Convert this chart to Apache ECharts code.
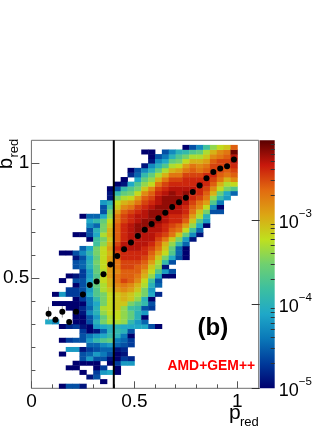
<!DOCTYPE html>
<html>
<head>
	<meta charset="UTF-8">
	<title>b_red vs p_red (AMD+GEM++)</title>
	<script src="https://cdn.jsdelivr.net/npm/echarts@6/dist/echarts.min.js"></script>
	<style>
		html, body { margin: 0; padding: 0; background: #fff; }
		#main { width: 332px; height: 430px; }
	</style>
</head>
<body>
<div id="main"></div>
<script type="text/javascript">
    // cell values, in tenths of a decade above 1e-5
    // each column: first the lowest row number, then the cells going up (_ = empty cell)
    var _ = null;
    var col2 = [14, 9];
    var col3 = [14, 7, _, _, _, 0, _, 0];
    var col4 = [0, 0, _, _, _, _, _, _, 0, _, _, 0, _, _, 0, _, _, _, _, 0, _, 8, _, _, 0, _, _, _, _, _, 0];
    var col5 = [0, 4, _, _, _, 0, _, _, _, 8, _, 3, _, _, 2, _, _, _, 0, 0, _, 3, 3, _, _, 0, _, _, _, _, 0];
    var col6 = [0, 4, _, _, _, 0, 0, _, _, 8, _, 4, _, _, 3, 0, 0, 0, 0, 0, 0, 3, 3, 0, 4, 1, _, 4, 4, 1, 4, _, _, _, 0];
    var col7 = [0, 1, _, _, 0, _, 0, 4, 4, 1, _, 4, 4, 3, 1, 0, 0, 1, 2, 0, 3, 3, 4, 4, 4, 3, 3, 5, 5, 4, 7, 5, _, _, 0, _, _, _, 0];
    var col8 = [2, 1, _, _, 0, 8, 5, 3, 5, 8, 6, 0, 0, 4, 4, 7, 5, 6, 6, 9, 8, 9, 9, 8, 8, 10, 10, 9, 11, 9, _, 0, 4, 4, 7, 9, 5];
    var col9 = [2, 4, 3, 0, 0, 4, 8, 4, 5, 11, 8, 1, 8, 10, 8, 10, 10, 9, 11, 13, 13, 14, 14, 13, 14, 14, 15, 14, 15, 15, 12, 12, 9, 10, 5, 11, 5];
    var col10 = [1, 0, _, 8, 3, _, 4, 6, 5, 7, 13, 9, 5, 9, 15, 14, 16, 17, 15, 15, 15, 17, 17, 18, 18, 17, 18, 18, 18, 18, 18, 16, 15, 17, 15, 15, 14, 9, 4, 4, 8];
    var col11 = [3, 9, _, 0, 1, 4, 5, 8, 14, 11, 10, 10, 17, 17, 18, 18, 18, 18, 18, 19, 20, 20, 21, 21, 21, 21, 21, 20, 21, 20, 19, 20, 20, 19, 18, 16, 15, 12, 10, 1, 1, 0];
    var col12 = [3, 0, 0, 3, 0, 0, 1, 5, 6, 10, 11, 10, 17, 18, 18, 19, 19, 19, 19, 21, 22, 23, 23, 22, 23, 23, 24, 25, 26, 25, 24, 24, 24, 24, 23, 23, 21, 19, 18, 15, 11, 4, 0];
    var col13 = [5, 8, 3, 1, 2, 4, 5, 6, 10, 9, 16, 16, 16, 16, 19, 20, 20, 22, 23, 25, 24, 24, 25, 25, 26, 26, 27, 27, 26, 26, 26, 26, 25, 25, 24, 22, 20, 17, 14, 11, 1, 0];
    var col14 = [5, 8, 2, _, _, 3, 3, 0, 4, 9, 11, 14, 14, 12, 15, 19, 19, 21, 22, 24, 24, 24, 25, 25, 26, 26, 27, 27, 27, 27, 27, 27, 26, 26, 25, 23, 21, 18, 15, 13, 9, _, 2, 0];
    var col15 = [13, 9, 8, 10, 10, 11, 13, 16, 17, 19, 20, 22, 23, 24, 24, 25, 26, 26, 27, 27, 27, 28, 28, 28, 27, 27, 26, 25, 23, 21, 18, 15, 13, 9, 5, 4];
    var col16 = [13, 9, 5, 0, 8, 4, 11, 10, 15, 15, 17, 18, 20, 21, 23, 24, 25, 26, 26, 27, 27, 27, 28, 28, 28, 27, 27, 26, 25, 24, 22, 19, 16, 14, 11, 7, 1, _, _, 0];
    var col17 = [13, 4, _, _, _, 3, 4, 0, 9, 8, 10, 12, 16, 18, 19, 21, 23, 24, 25, 26, 27, 27, 27, 28, 28, 28, 28, 27, 26, 25, 24, 22, 18, 16, 14, 10, 7, 1, 0, 0];
    var col18 = [13, 0, _, _, _, _, _, _, 2, _, 5, 4, 9, 13, 16, 17, 19, 21, 23, 24, 25, 26, 27, 27, 28, 28, 28, 28, 27, 27, 26, 25, 23, 20, 17, 14, 10, 7, 4];
    var col19 = [24, 0, 8, 1, 11, 15, 18, 19, 20, 23, 25, 26, 26, 27, 27, 28, 28, 28, 28, 27, 26, 25, 23, 20, 17, 13, 9, 6, 4];
    var col20 = [24, 0, 4, _, 4, 9, 13, 14, 16, 19, 23, 24, 25, 26, 26, 27, 27, 28, 28, 28, 27, 26, 25, 23, 20, 17, 14, 10, 7];
    var col21 = [28, 4, 5, 5, 11, 15, 19, 23, 24, 26, 26, 27, 27, 28, 28, 27, 27, 26, 25, 23, 21, 18, 15, 13, 10];
    var col22 = [28, 0, 0, 0, 5, 8, 14, 18, 21, 24, 25, 26, 26, 27, 27, 28, 27, 26, 26, 25, 23, 21, 18, 15, 11, 0];
    var col23 = [32, 1, 7, 12, 16, 19, 21, 23, 24, 25, 26, 26, 27, 26, 26, 25, 24, 23, 20, 17, 13, 4];
    var col24 = [33, 1, 5, 9, 13, 17, 19, 22, 23, 25, 26, 26, 27, 26, 25, 23, 22, 20, 17, 14, 7];
    var col25 = [35, 0, 8, 10, 15, 18, 21, 23, 24, 25, 26, 26, 26, 24, 23, 21, 19, 17, 12];
    var col26 = [38, 4, 7, 13, 16, 20, 22, 24, 25, 26, 25, 25, 24, 22, 20, 16];
    var col27 = [38, 4, 0, 6, 11, 14, 18, 20, 23, 24, 25, 25, 25, 23, 22, 18];
    var col28 = [41, 8, 9, 15, 17, 20, 23, 24, 25, 25, 24, 23, 19];
    var col29 = [42, 5, 13, 18, 22, 24, 25, 26, 27, 27, 29, 24];

    // mean b_red per p_red bin, starting at column 2
    var meanB = [0.345, 0.319, 0.353, 0.309, 0.353, 0.429, 0.470, 0.485, 0.517, 0.559, 0.596, 0.626, 0.655, 0.683, 0.711,
        0.735, 0.761, 0.784, 0.809, 0.830, 0.850, 0.875, 0.903, 0.935, 0.962, 0.977, 0.987, 1.016];
    var meanErr = [0.030, 0.015, 0.025, 0.012, 0.012, 0.008, 0.005, 0.005];
    var cutX = [0.4, 0.4];
    var cutY = [0.02, 1.1];

    var xMajor = [0, 0.5, 1];
    var xMinor = [0.1, 0.2, 0.3, 0.4, 0.6, 0.7, 0.8, 0.9];
    var yMajor = [0.5, 1];
    var yMinor = [0.1, 0.2, 0.3, 0.4, 0.6, 0.7, 0.8, 0.9];
    var zMajor = [-5, -4, -3];
    var palette = ['#00006e', '#003a9a', '#0a78b8', '#1fa8c8', '#3cbfa0', '#6fd070', '#bfe01e', '#dca514', '#e26a10', '#c8180c', '#5a0000'];

    var xBin = 1 / 30, yBin = 0.02;
    var columns = [col2, col3, col4, col5, col6, col7, col8, col9, col10, col11, col12, col13, col14, col15,
        col16, col17, col18, col19, col20, col21, col22, col23, col24, col25, col26, col27, col28, col29];

    var cells = [];
    columns.forEach(function (col, i) {
        for (var k = 1; k < col.length; k++) {
            if (col[k] === null) continue;
            var row = col[0] + k - 1;
            cells.push([(i + 2.5) * xBin, 0.03 + row * yBin, -5 + col[k] / 10]);
        }
    });
    var dots = meanB.map(function (b, i) {
        return [(i + 2.5) * xBin, b];
    });
    var errs = meanErr.map(function (e, i) {
        return [(i + 2.5) * xBin, meanB[i], e];
    });
    var zMinor = [];
    [-5, -4, -3].forEach(function (d) {
        for (var m = 2; m <= 9; m++) {
            if (d + Math.log10(m) < -2.05) zMinor.push(d + Math.log10(m));
        }
    });
    var barStops = palette.map(function (c, i) {
        return {offset: i / (palette.length - 1), color: c};
    });

    var fontName = '"Liberation Sans", Arial, sans-serif';
    var tickColor = '#555';

    function ticksOnly(type, minor, dim) {
        return {
            type: 'value',
            gridIndex: 0,
            position: dim,
            min: type[0],
            max: type[1],
            splitLine: {show: false},
            axisLine: {show: false},
            axisLabel: {show: false},
            axisTick: {inside: true, length: 4, customValues: minor, lineStyle: {color: tickColor}}
        };
    }

    var myChart = echarts.init(document.getElementById('main'));
    myChart.setOption({
        animation: false,
        backgroundColor: '#fff',
        grid: [
            {left: 30.7, top: 140.3, width: 228, height: 248, show: true, borderColor: '#6e6e6e', borderWidth: 1, backgroundColor: 'transparent'},
            {left: 259.7, top: 140.3, width: 15, height: 248}
        ],
        xAxis: [
            {
                type: 'value', gridIndex: 0, position: 'bottom', min: 0, max: 1.1036,
                splitLine: {show: false}, axisLine: {show: false},
                axisTick: {inside: true, length: 7, customValues: xMajor, lineStyle: {color: tickColor}},
                axisLabel: {
                    customValues: xMajor, margin: 4, color: '#000', fontSize: 19, fontFamily: fontName,
                    formatter: function (v) { return String(v); }
                }
            },
            ticksOnly([0, 1.1036], xMinor, 'bottom'),
            {type: 'value', gridIndex: 1, min: 0, max: 1, show: false}
        ],
        yAxis: [
            {
                type: 'value', gridIndex: 0, position: 'left', min: 0.02, max: 1.1,
                splitLine: {show: false}, axisLine: {show: false},
                axisTick: {inside: true, length: 8, customValues: yMajor, lineStyle: {color: tickColor}},
                axisLabel: {
                    customValues: yMajor, margin: 2, color: '#000', fontSize: 19, fontFamily: fontName,
                    formatter: function (v) { return String(v); }
                }
            },
            ticksOnly([0.02, 1.1], yMinor, 'left'),
            {
                type: 'value', gridIndex: 1, position: 'right', min: -5, max: -2.05, z: 10,
                splitLine: {show: false}, axisLine: {show: false},
                axisTick: {inside: true, length: 8, customValues: zMajor, lineStyle: {color: '#333'}},
                axisLabel: {
                    customValues: zMajor, margin: 4, fontFamily: fontName,
                    formatter: function (v) { return '{a|10}{b|\u2212' + Math.abs(v) + '}'; },
                    rich: {
                        a: {fontSize: 18, lineHeight: 24, verticalAlign: 'bottom', color: '#000', fontFamily: fontName},
                        b: {fontSize: 11.5, lineHeight: 14, verticalAlign: 'top', color: '#000', fontFamily: fontName}
                    }
                }
            },
            {
                type: 'value', gridIndex: 1, position: 'right', min: -5, max: -2.05, z: 10,
                splitLine: {show: false}, axisLine: {show: false}, axisLabel: {show: false},
                axisTick: {inside: true, length: 4, customValues: zMinor, lineStyle: {color: '#333'}}
            }
        ],
        visualMap: {
            type: 'continuous', show: false, seriesIndex: 0, dimension: 2, min: -5, max: -2.05,
            inRange: {color: palette}
        },
        series: [
            {
                type: 'custom', xAxisIndex: 0, yAxisIndex: 0, data: cells, encode: {x: 0, y: 1}, silent: true,
                renderItem: function (params, api) {
                    var x = api.value(0), y = api.value(1);
                    var a = api.coord([x - xBin / 2, y + yBin / 2]);
                    var b = api.coord([x + xBin / 2, y - yBin / 2]);
                    return {
                        type: 'rect',
                        shape: {x: a[0], y: a[1], width: b[0] - a[0] + 0.4, height: b[1] - a[1] + 0.4},
                        style: {fill: api.visual('color')}
                    };
                }
            },
            {
                type: 'line', xAxisIndex: 0, yAxisIndex: 0, symbol: 'none', silent: true, z: 3,
                data: [[cutX[0], cutY[0]], [cutX[1], cutY[1]]],
                lineStyle: {color: '#000', width: 2}
            },
            {
                type: 'custom', xAxisIndex: 0, yAxisIndex: 0, data: errs, encode: {x: 0, y: 1}, silent: true, z: 4,
                renderItem: function (params, api) {
                    var x = api.value(0), y = api.value(1), e = api.value(2);
                    var a = api.coord([x, y + e]);
                    var b = api.coord([x, y - e]);
                    return {
                        type: 'line',
                        shape: {x1: a[0], y1: a[1], x2: b[0], y2: b[1]},
                        style: {stroke: '#999', lineWidth: 1}
                    };
                }
            },
            {
                type: 'scatter', xAxisIndex: 0, yAxisIndex: 0, data: dots, symbol: 'circle', symbolSize: 6, silent: true, z: 5,
                itemStyle: {color: '#000', opacity: 1}
            },
            {
                // colour bar, same palette as the cells
                type: 'custom', xAxisIndex: 2, yAxisIndex: 2, data: [[0, -5]], encode: {x: 0, y: 1}, silent: true,
                renderItem: function (params, api) {
                    var a = api.coord([0, -2.05]);
                    var b = api.coord([1, -5]);
                    return {
                        type: 'rect',
                        shape: {x: a[0], y: a[1], width: b[0] - a[0], height: b[1] - a[1]},
                        style: {fill: new echarts.graphic.LinearGradient(0, 1, 0, 0, barStops)}
                    };
                }
            }
        ],
        graphic: [
            {type: 'text', x: 16, y: 169, rotation: Math.PI / 2, style: {text: 'b', font: '20px ' + fontName, fill: '#000', textVerticalAlign: 'bottom'}},
            {type: 'text', x: 20.5, y: 157.5, rotation: Math.PI / 2, style: {text: 'red', font: '13px ' + fontName, fill: '#000', textVerticalAlign: 'bottom'}},
            {type: 'text', x: 229, y: 403, style: {text: 'p', font: '21px ' + fontName, fill: '#000'}},
            {type: 'text', x: 240, y: 416, style: {text: 'red', font: '13px ' + fontName, fill: '#000'}},
            {type: 'text', x: 197.5, y: 316, style: {text: '(b)', font: 'bold 24px ' + fontName, fill: '#000'}},
            {type: 'text', x: 167.5, y: 359, style: {text: 'AMD+GEM++', font: 'bold 13.9px ' + fontName, fill: '#ff0000'}}
        ]
    });
</script>
</body>
</html>
